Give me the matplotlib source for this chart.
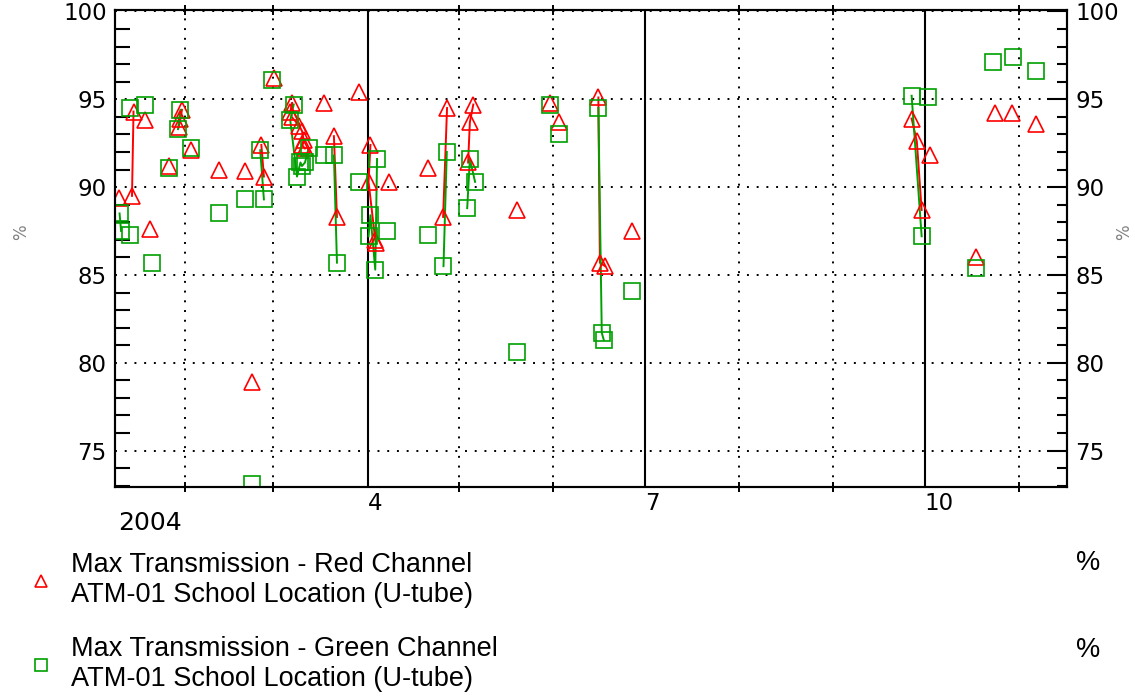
import numpy as np
import pandas as pd
import matplotlib
matplotlib.use('Agg')
from matplotlib import pyplot as plt
import matplotlib.dates as mdates
from matplotlib.ticker import MultipleLocator, FuncFormatter


'''
Max transmission of the ATM-01 school location (U-tube), red and green channel, 2004.
Points that share a run id were taken on one visit and are joined by a line.
'''

red_time = ['2004-01-10 05:00', '2004-01-14 14:00', '2004-01-15 02:00', '2004-01-19 00:00',
            '2004-01-20 14:00', '2004-01-26 14:00', '2004-01-31 00:00', '2004-01-30 12:00',
            '2004-01-29 22:00', '2004-02-03 00:00', '2004-02-12 02:00', '2004-02-20 19:00',
            '2004-02-23 00:00', '2004-02-26 02:00', '2004-02-26 22:00', '2004-03-01 02:00',
            '2004-03-06 14:00', '2004-03-07 05:00', '2004-03-07 00:00', '2004-03-09 12:00',
            '2004-03-10 10:00', '2004-03-11 00:00', '2004-03-10 10:00', '2004-03-11 10:00',
            '2004-03-17 14:00', '2004-03-20 22:00', '2004-03-21 22:00', '2004-03-29 02:00',
            '2004-04-01 22:00', '2004-04-01 07:00', '2004-04-03 12:00', '2004-04-03 19:00',
            '2004-04-07 22:00', '2004-04-20 19:00', '2004-04-27 02:00', '2004-04-25 19:00',
            '2004-05-05 17:00', '2004-05-04 14:00', '2004-05-04 00:00', '2004-05-20 02:00',
            '2004-05-30 22:00', '2004-06-02 22:00', '2004-06-15 19:00', '2004-06-16 07:00',
            '2004-06-18 00:00', '2004-06-26 17:00', '2004-09-26 17:00', '2004-09-28 10:00',
            '2004-09-30 00:00', '2004-10-02 17:00', '2004-10-17 22:00', '2004-10-24 02:00',
            '2004-10-29 14:00', '2004-11-06 14:00']
red_pct = [89.4, 89.5, 94.3, 93.8,
           87.6, 91.2, 94.4, 93.9,
           93.4, 92.1, 91.0, 90.9,
           78.9, 92.4, 90.6, 96.2,
           94.3, 94.8, 94.0, 93.5,
           93.2, 92.7, 92.4, 92.2,
           94.8, 92.9, 88.3, 95.4,
           92.4, 90.3, 87.0, 86.8,
           90.3, 91.1, 94.5, 88.3,
           94.7, 93.7, 91.4, 88.7,
           94.8, 93.7, 95.1, 85.7,
           85.5, 87.5, 93.9, 92.6,
           88.7, 91.8, 86.0, 94.2,
           94.2, 93.6]
red_run = [0, 1, 1, 2,
           3, 4, 5, 5,
           5, 6, 7, 8,
           9, 10, 10, 11,
           12, 12, 12, 12,
           12, 12, 12, 12,
           13, 14, 14, 15,
           16, 16, 16, 16,
           17, 18, 19, 19,
           20, 20, 20, 21,
           22, 23, 24, 24,
           24, 25, 26, 26,
           26, 27, 28, 29,
           30, 31]

green_time = ['2004-01-10 12:00', '2004-01-11 00:00', '2004-01-14 00:00', '2004-01-14 02:00',
              '2004-01-19 00:00', '2004-01-21 05:00', '2004-01-26 14:00', '2004-01-30 12:00',
              '2004-01-29 17:00', '2004-02-03 00:00', '2004-02-12 02:00', '2004-02-20 19:00',
              '2004-02-23 00:00', '2004-02-25 17:00', '2004-02-26 22:00', '2004-02-29 14:00',
              '2004-03-07 17:00', '2004-03-06 14:00', '2004-03-08 19:00', '2004-03-09 22:00',
              '2004-03-10 10:00', '2004-03-11 10:00', '2004-03-12 14:00', '2004-03-17 14:00',
              '2004-03-20 22:00', '2004-03-21 22:00', '2004-03-29 02:00', '2004-04-01 07:00',
              '2004-04-01 22:00', '2004-04-03 12:00', '2004-04-04 02:00', '2004-04-07 10:00',
              '2004-04-20 22:00', '2004-04-27 00:00', '2004-04-25 22:00', '2004-05-06 07:00',
              '2004-05-04 14:00', '2004-05-03 17:00', '2004-05-20 00:00', '2004-05-30 22:00',
              '2004-06-02 22:00', '2004-06-15 19:00', '2004-06-16 22:00', '2004-06-17 14:00',
              '2004-06-26 17:00', '2004-09-26 17:00', '2004-09-30 00:00', '2004-10-02 05:00',
              '2004-10-17 22:00', '2004-10-23 12:00', '2004-10-29 22:00', '2004-11-06 14:00']
green_pct = [88.5, 87.5, 87.3, 94.5,
             94.7, 85.7, 91.1, 94.4,
             93.3, 92.2, 88.5, 89.3,
             73.1, 92.1, 89.3, 96.1,
             94.7, 93.8, 90.6, 91.4,
             91.2, 91.4, 92.2, 91.8,
             91.8, 85.7, 90.3, 87.2,
             88.4, 85.3, 91.6, 87.5,
             87.3, 92.0, 85.5, 90.3,
             91.6, 88.8, 80.6, 94.7,
             93.0, 94.5, 81.7, 81.3,
             84.1, 95.2, 87.2, 95.1,
             85.4, 97.1, 97.4, 96.6]
green_run = [0, 0, 1, 2,
             3, 4, 5, 6,
             6, 7, 8, 9,
             10, 11, 11, 12,
             13, 13, 13, 13,
             13, 13, 13, 14,
             15, 15, 16, 17,
             17, 17, 17, 18,
             19, 20, 20, 21,
             21, 21, 22, 23,
             24, 25, 25, 25,
             26, 27, 27, 28,
             29, 30, 31, 32]

red_label = 'Max Transmission - Red Channel\nATM-01 School Location (U-tube)'
green_label = 'Max Transmission - Green Channel\nATM-01 School Location (U-tube)'

RED = '#ff0000'
GREEN = '#00a000'
W, H = 1135, 699


def draw_series(ax, times, pct, run, color, marker, label):
    t = pd.to_datetime(pd.Series(times))
    pct = np.asarray(pct)
    run = np.asarray(run)
    # join the points of one visit
    for r in np.unique(run):
        m = run == r
        if m.sum() > 1:
            ax.plot(t[m], pct[m], '-', color=color, lw=1.4, zorder=3)
    h, = ax.plot(t, pct, linestyle='none', marker=marker, ms=12,
                 mfc='none', mec=color, mew=1.2, zorder=4, label=label)
    return h


fig = plt.figure(figsize=(W / 100, H / 100), dpi=100)
ax = fig.add_axes([115 / W, 1 - 487 / H, 952 / W, 477 / H])

hr = draw_series(ax, red_time, red_pct, red_run, RED, '^', red_label)
hg = draw_series(ax, green_time, green_pct, green_run, GREEN, 's', green_label)

ax.set_xlim(pd.Timestamp('2004-01-09'), pd.Timestamp('2004-11-16 18:00'))
ax.set_ylim(72.93, 100.08)

# x axis: month ticks, labels only every quarter
ax.xaxis.set_major_locator(mdates.MonthLocator(bymonth=[4, 7, 10]))
ax.xaxis.set_minor_locator(mdates.MonthLocator())
ax.xaxis.set_major_formatter(FuncFormatter(lambda v, p: str(mdates.num2date(v).month)))
ax.tick_params(axis='x', which='major', length=0, pad=3.5, labelsize=16.5, top=True)
ax.tick_params(axis='x', which='minor', direction='inout', length=7, width=1.4,
               top=True, bottom=True)
for tk in ax.xaxis.get_major_ticks():
    tk.label1.set_horizontalalignment('left')

# y axis
ax.yaxis.set_major_locator(MultipleLocator(5))
ax.yaxis.set_minor_locator(MultipleLocator(1))
ax.tick_params(axis='y', which='major', length=0, pad=6, labelsize=16.5)
ax.tick_params(axis='y', which='minor', direction='in', length=11, width=1.5)

ax.set_axisbelow(True)
ax.grid(axis='y', which='major', color='k', linestyle=(0, (1, 4)), lw=1.4)
ax.grid(axis='x', which='minor', color='k', linestyle=(0, (1, 4)), lw=1.4)
ax.grid(axis='x', which='major', color='k', linestyle='-', lw=1.5)

for s in ax.spines.values():
    s.set_linewidth(1.5)

# right hand axis
ax2 = ax.twinx()
ax2.set_ylim(ax.get_ylim())
ax2.yaxis.set_major_locator(MultipleLocator(5))
ax2.yaxis.set_minor_locator(MultipleLocator(1))
ax2.tick_params(axis='y', which='major', direction='in', length=14.5, width=1.5,
                pad=6, labelsize=16.5)
ax2.tick_params(axis='y', which='minor', direction='in', length=7, width=1.5)
for s in ax2.spines.values():
    s.set_linewidth(1.5)

ax.set_ylabel('%', color='#808080', fontsize=12, rotation=90)
ax.yaxis.set_label_coords(-0.089, 0.535)
ax2.set_ylabel('%', color='#808080', fontsize=12, rotation=90)
ax2.yaxis.set_label_coords(1.0505, 0.535)

ax.text(0.003, -0.05, '2004', transform=ax.transAxes, ha='left', va='top', fontsize=18)

leg_font = {'family': 'Liberation Sans', 'size': 19.5}
leg = fig.legend(handles=[hr, hg], loc='upper left', bbox_to_anchor=(27 / W, 1 - 552 / H),
                 frameon=False, prop=leg_font, handlelength=1.0, handletextpad=0.62,
                 labelspacing=1.05, borderpad=0, borderaxespad=0, markerscale=0.7)
for t in leg.get_texts():
    t.set_linespacing(1.2)
fig.text(1088 / W, 1 - 563 / H, '%', ha='center', va='center', fontdict=leg_font)
fig.text(1088 / W, 1 - 650 / H, '%', ha='center', va='center', fontdict=leg_font)

fig.savefig('out.png', dpi=100)
